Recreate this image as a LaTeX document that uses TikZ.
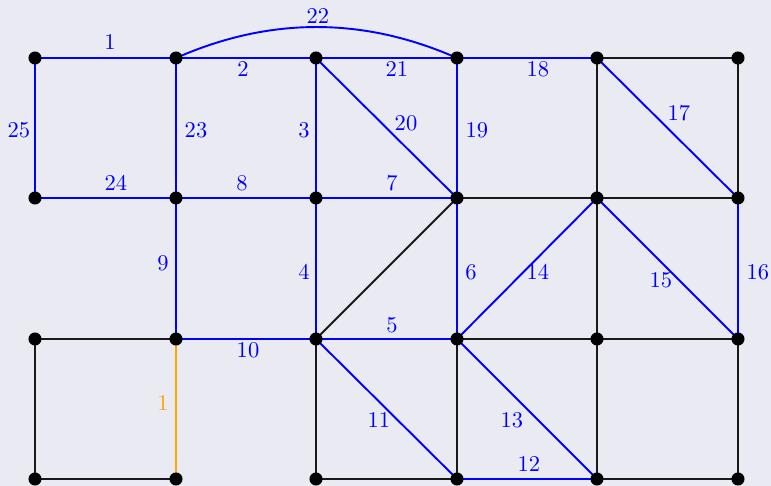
\documentclass[tikz,border=0pt]{standalone}
\usetikzlibrary{backgrounds}
\definecolor{bg}{RGB}{234,234,242}
\definecolor{eblue}{RGB}{0,0,255}
\definecolor{eorange}{RGB}{255,165,0}
\definecolor{eblack}{RGB}{25,25,25}
\begin{document}
\begin{tikzpicture}[x=0.444pt,y=-0.444pt,
  dot/.style={circle,fill=black,inner sep=0pt,minimum size=5.8pt},
  bl/.style={draw=eblue,line width=0.85pt},
  bk/.style={draw=eblack,line width=0.85pt},
  og/.style={draw=eorange,line width=0.85pt},
  lb/.style={text=eblue,inner sep=0pt},
  lo/.style={text=eorange,inner sep=0pt}]
\useasboundingbox (0,0) rectangle (771,486);
\foreach \i/\x in {0/35,1/176,2/316,3/457,4/597,5/738}
  \foreach \j/\y in {0/58,1/198,2/339,3/479}
    \node[dot] (n\i\j) at (\x,\y) {};
\begin{pgfonlayer}{background}
\fill[bg] (0,0) rectangle (771,486);
% black edges
\draw[bk] (n40.center) -- (n50.center);
\draw[bk] (n40.center) -- (n41.center);
\draw[bk] (n50.center) -- (n51.center);
\draw[bk] (n31.center) -- (n41.center);
\draw[bk] (n41.center) -- (n51.center);
\draw[bk] (n22.center) -- (n31.center);
\draw[bk] (n41.center) -- (n42.center);
\draw[bk] (n32.center) -- (n42.center);
\draw[bk] (n42.center) -- (n52.center);
\draw[bk] (n02.center) -- (n12.center);
\draw[bk] (n02.center) -- (n03.center);
\draw[bk] (n03.center) -- (n13.center);
\draw[bk] (n22.center) -- (n23.center);
\draw[bk] (n23.center) -- (n33.center);
\draw[bk] (n32.center) -- (n33.center);
\draw[bk] (n42.center) -- (n43.center);
\draw[bk] (n43.center) -- (n53.center);
\draw[bk] (n52.center) -- (n53.center);
% blue edges
\draw[bl] (n00.center) -- (n10.center);
\draw[bl] (n10.center) -- (n20.center);
\draw[bl] (n20.center) -- (n30.center);
\draw[bl] (n30.center) -- (n40.center);
\draw[bl] (n10.center) .. controls (269.7,16.7) and (363.3,16.7) .. (n30.center);
\draw[bl] (n00.center) -- (n01.center);
\draw[bl] (n10.center) -- (n11.center);
\draw[bl] (n20.center) -- (n21.center);
\draw[bl] (n20.center) -- (n31.center);
\draw[bl] (n30.center) -- (n31.center);
\draw[bl] (n40.center) -- (n51.center);
\draw[bl] (n01.center) -- (n11.center);
\draw[bl] (n11.center) -- (n21.center);
\draw[bl] (n21.center) -- (n31.center);
\draw[bl] (n11.center) -- (n12.center);
\draw[bl] (n21.center) -- (n22.center);
\draw[bl] (n31.center) -- (n32.center);
\draw[bl] (n32.center) -- (n41.center);
\draw[bl] (n41.center) -- (n52.center);
\draw[bl] (n51.center) -- (n52.center);
\draw[bl] (n12.center) -- (n22.center);
\draw[bl] (n22.center) -- (n32.center);
\draw[bl] (n22.center) -- (n33.center);
\draw[bl] (n32.center) -- (n43.center);
\draw[bl] (n33.center) -- (n43.center);
\draw[og] (n12.center) -- (n13.center);
\end{pgfonlayer}
% labels
\node[lb] (l1) at (110,42) {1};
\node[lb] (l2) at (243,69) {2};
\node[lb] (l21) at (397,69) {21};
\node[lb] (l18) at (538,69) {18};
\node[lb] (l22) at (318,16) {22};
\node[lb] (l25) at (19,130) {25};
\node[lb] (l23) at (196,130) {23};
\node[lb] (l3) at (304,130) {3};
\node[lb] (l20) at (406,123) {20};
\node[lb] (l19) at (477,130) {19};
\node[lb] (l17) at (679,113) {17};
\node[lb] (l24) at (116,183) {24};
\node[lb] (l8) at (242,183) {8};
\node[lb] (l7) at (392,183) {7};
\node[lb] (l9) at (163,263) {9};
\node[lb] (l4) at (304,272) {4};
\node[lb] (l6) at (471,272) {6};
\node[lb] (l14) at (538,272) {14};
\node[lb] (l15) at (661,280) {15};
\node[lb] (l16) at (758,272) {16};
\node[lb] (l10) at (248,350) {10};
\node[lb] (l5) at (392,325) {5};
\node[lb] (l11) at (379,420) {11};
\node[lb] (l13) at (512,420) {13};
\node[lb] (l12) at (529,464) {12};
\node[lo] (lo1) at (163,403) {1};
\end{tikzpicture}
\end{document}
